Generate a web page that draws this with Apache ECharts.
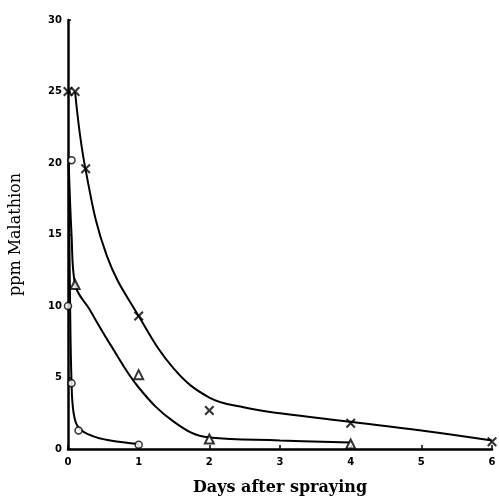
<!DOCTYPE html>
<html>
<head>
<meta charset="utf-8">
<script src="https://cdn.jsdelivr.net/npm/echarts@6/dist/echarts.min.js"></script>
<style>
  html, body { margin: 0; padding: 0; background: #fff; }
  #chart { width: 499px; height: 501px; }
</style>
</head>
<body>
<div id="chart"></div>
<script>
// plotted marks: [days, ppm]
const crossPoints = [[0, 25], [0.1, 25], [0.25, 19.6], [1, 9.3], [2, 2.7], [4, 1.8], [6, 0.5]];
const trianglePoints = [[0.1, 11.5], [1, 5.2], [2, 0.7], [4, 0.35]];
const circlePoints = [[0.05, 20.2], [0, 10], [0.05, 4.6], [0.15, 1.3], [1, 0.3]];

// hand-drawn fitted curves
const crossCurve = [[0.1, 25], [0.25, 19.5], [0.55, 13.5], [1, 9.3], [1.5, 5.6],
  [2, 3.6], [2.5, 2.9], [3, 2.5], [4, 1.9], [5, 1.3], [6, 0.6]];
const triangleCurve = [[0.01, 20], [0.05, 15], [0.1, 11.5], [0.3, 9.8], [0.6, 7.3], [1, 4.3],
  [1.5, 1.9], [2, 0.8], [3, 0.6], [4, 0.45]];
const circleCurve = [[0.01, 20], [0.03, 10], [0.05, 4.7], [0.08, 2.5], [0.15, 1.5], [0.35, 0.9], [0.6, 0.6], [1, 0.35]];

const xTicks = [0, 6, 1];
const yTicks = [0, 30, 5];

const crossSymbol = "path://M0,1.5L1.5,0L5,3.5L8.5,0L10,1.5L6.5,5L10,8.5L8.5,10L5,6.5L1.5,10L0,8.5L3.5,5Z";
const labelFont = { color: "#000", fontFamily: "DejaVu Sans", fontWeight: "bold", fontSize: 10 };

function curve(data) {
  return {
    type: "line",
    data,
    smooth: 0.4,
    showSymbol: false,
    lineStyle: { color: "#000", width: 2 },
    z: 2,
  };
}

const chart = echarts.init(document.getElementById("chart"));
chart.setOption({
  animation: false,
  backgroundColor: "#fff",
  grid: { left: 67, right: 7, top: 20, bottom: 50 },
  xAxis: {
    type: "value",
    min: xTicks[0],
    max: xTicks[1],
    interval: xTicks[2],
    name: "Days after spraying",
    nameLocation: "middle",
    nameGap: 31,
    nameTextStyle: { color: "#000", fontFamily: "DejaVu Serif", fontWeight: "bold", fontSize: 16 },
    axisLine: { lineStyle: { color: "#000", width: 2.5 } },
    axisTick: { inside: true, length: 4, lineStyle: { color: "#000", width: 1.5 } },
    axisLabel: { ...labelFont, margin: 8 },
    splitLine: { show: false },
  },
  yAxis: {
    type: "value",
    min: yTicks[0],
    max: yTicks[1],
    interval: yTicks[2],
    name: "ppm Malathion",
    nameLocation: "middle",
    nameGap: 44,
    nameTextStyle: { color: "#000", fontFamily: "DejaVu Serif", fontSize: 16 },
    axisLine: { lineStyle: { color: "#000", width: 2.5 } },
    axisTick: { inside: true, length: 3, lineStyle: { color: "#000", width: 1.5 } },
    axisLabel: { ...labelFont, margin: 6 },
    splitLine: { show: false },
  },
  series: [
    curve(crossCurve),
    curve(triangleCurve),
    curve(circleCurve),
    {
      type: "scatter",
      data: crossPoints,
      symbol: crossSymbol,
      symbolSize: 10,
      itemStyle: { color: "#000" },
      z: 3,
    },
    {
      type: "scatter",
      data: trianglePoints,
      symbol: "triangle",
      symbolSize: 9,
      itemStyle: { color: "#fff", borderColor: "#000", borderWidth: 2 },
      z: 3,
    },
    {
      type: "scatter",
      data: circlePoints,
      symbol: "circle",
      symbolSize: 7,
      itemStyle: { color: "#fff", borderColor: "#000", borderWidth: 1.5 },
      z: 3,
    },
  ],
});
</script>
</body>
</html>
